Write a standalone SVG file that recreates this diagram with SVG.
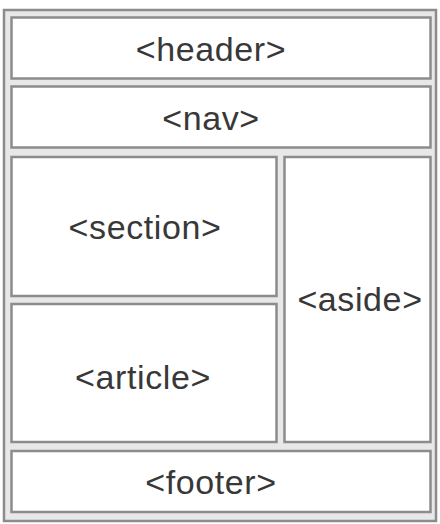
<svg xmlns="http://www.w3.org/2000/svg" width="440" height="524" viewBox="0 0 440 524">
<style>
.outer{fill:#e8e8e8;stroke:#8c8c8c;stroke-width:2.5}
.box{fill:#ffffff;stroke:#8c8c8c;stroke-width:2.5}
.lbl{font-family:"Liberation Sans",Arial,sans-serif;font-size:34px;letter-spacing:0.6px;fill:#383838;text-anchor:middle}
</style>
<rect width="440" height="524" fill="#ffffff"/>
<rect class="outer" x="4" y="10" width="432" height="511"/>
<g id="header"><rect class="box" x="11.5" y="17.5" width="419" height="61"/><text class="lbl" x="211" y="61">&lt;header&gt;</text></g>
<g id="nav"><rect class="box" x="11.5" y="86.5" width="419" height="61"/><text class="lbl" x="211" y="130">&lt;nav&gt;</text></g>
<g id="section"><rect class="box" x="11.5" y="157" width="265" height="139"/><text class="lbl" x="145" y="239">&lt;section&gt;</text></g>
<g id="article"><rect class="box" x="11.5" y="304" width="265" height="138"/><text class="lbl" x="143" y="389">&lt;article&gt;</text></g>
<g id="aside"><rect class="box" x="284.5" y="157" width="146" height="285"/><text class="lbl" x="360" y="311">&lt;aside&gt;</text></g>
<g id="footer"><rect class="box" x="11.5" y="451" width="419" height="61"/><text class="lbl" x="211" y="494">&lt;footer&gt;</text></g>
<g id="connectors"></g>
</svg>
